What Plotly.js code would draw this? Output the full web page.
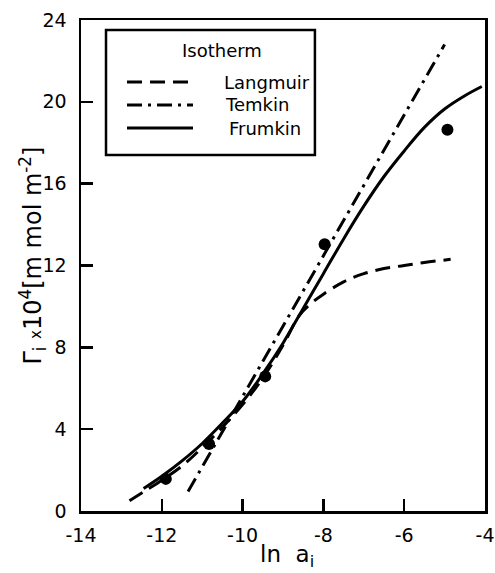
<!DOCTYPE html>
<html>
<head>
<meta charset="utf-8">
<script src="https://cdn.plot.ly/plotly-3.0.1.min.js"></script>
<style>
  html, body { margin: 0; padding: 0; background: #fff; }
  #chart { width: 495px; height: 573px; }
</style>
</head>
<body>
<div id="chart"></div>
<script>
// Experimental points
const expX = [-11.90, -10.83, -9.44, -7.97, -4.93];
const expY = [1.57, 3.28, 6.58, 13.04, 18.64];

// Langmuir isotherm (dashed)
const langmuirX = [-12.8, -12.4, -12.0, -11.5, -11.0, -10.5, -10.0, -9.5, -9.0, -8.6, -8.3, -8.0, -7.5, -7.0, -6.5, -6.0, -5.5, -4.85];
const langmuirY = [0.5, 1.0, 1.5, 2.2, 3.1, 4.1, 5.2, 6.5, 8.1, 9.55, 10.15, 10.6, 11.2, 11.6, 11.85, 12.0, 12.15, 12.3];

// Temkin isotherm (dash-dot straight line)
const temkinX = [-11.35, -5.0];
const temkinY = [0.95, 22.8];

// Frumkin isotherm (solid)
const frumkinX = [-12.45, -12.0, -11.5, -11.0, -10.5, -10.0, -9.5, -9.0, -8.5, -8.0, -7.5, -7.0, -6.5, -6.0, -5.5, -5.0, -4.5, -4.08];
const frumkinY = [1.1, 1.7, 2.45, 3.3, 4.3, 5.35, 6.7, 8.2, 9.9, 11.6, 13.3, 14.9, 16.35, 17.6, 18.75, 19.65, 20.3, 20.75];

// Axis ticks
const xTickVals = [-14, -12, -10, -8, -6, -4];
const xTickText = ['-14', '-12', '-10', '-8', '-6', '-4'];
const yTickVals = [0, 4, 8, 12, 16, 20, 24];
const yTickText = ['0', '4', '8', '12', '16', '20', '24'];

// Legend entries
const legendNames = ['Langmuir', 'Temkin', 'Frumkin'];
const legendDash = ['15px,8px', '15px,6px,3px,6px', 'solid'];

const FONT = 'DejaVu Sans, sans-serif';

const traces = [
  { x: langmuirX, y: langmuirY, mode: 'lines', line: { color: '#000', width: 3, dash: legendDash[0], shape: 'spline' }, name: legendNames[0], hoverinfo: 'skip' },
  { x: temkinX, y: temkinY, mode: 'lines', line: { color: '#000', width: 3, dash: legendDash[1] }, name: legendNames[1], hoverinfo: 'skip' },
  { x: frumkinX, y: frumkinY, mode: 'lines', line: { color: '#000', width: 3, dash: legendDash[2], shape: 'spline' }, name: legendNames[2], hoverinfo: 'skip' },
  { x: expX, y: expY, mode: 'markers', marker: { color: '#000', size: 12 }, name: 'exp', hoverinfo: 'skip' }
];

// legend drawn in paper coordinates
const lgLineY = [0.8737, 0.8269, 0.7800];
const lgTextX = [0.349, 0.3515, 0.3614];
const shapes = [
  { type: 'rect', xref: 'paper', yref: 'paper', x0: 0.0619, x1: 0.579, y0: 0.725, y1: 0.9796, line: { color: '#000', width: 2.5 } }
];
const annotations = [
  { xref: 'paper', yref: 'paper', x: 0.349, y: 0.9369, text: 'Isotherm', showarrow: false, xanchor: 'center', yanchor: 'middle', font: { family: FONT, size: 18, color: '#000' } },
  { xref: 'paper', yref: 'paper', x: -0.119, y: 0.52, textangle: -90, text: 'Γ<sub>i</sub> <span style="font-size:15px">x</span>10<sup>4</sup>[m mol m<sup>-2</sup>]', showarrow: false, xanchor: 'center', yanchor: 'middle', font: { family: FONT, size: 24, color: '#000' } },
  { xref: 'paper', yref: 'paper', x: 0.51, y: -0.092, text: 'ln  a<sub>i</sub>', showarrow: false, xanchor: 'center', yanchor: 'middle', font: { family: FONT, size: 23, color: '#000' } }
];
for (let i = 0; i < legendNames.length; i++) {
  shapes.push({ type: 'line', xref: 'paper', yref: 'paper', x0: 0.1139, x1: 0.2772, y0: lgLineY[i], y1: lgLineY[i], line: { color: '#000', width: 3, dash: legendDash[i] } });
  annotations.push({ xref: 'paper', yref: 'paper', x: lgTextX[i], y: lgLineY[i], text: legendNames[i], showarrow: false, xanchor: 'left', yanchor: 'middle', font: { family: FONT, size: 18, color: '#000' } });
}

const layout = {
  width: 495, height: 573,
  margin: { l: 81, r: 10, t: 20, b: 62 },
  paper_bgcolor: '#fff', plot_bgcolor: '#fff',
  showlegend: false,
  font: { family: FONT, size: 19, color: '#000' },
  xaxis: {
    range: [-14, -4], tickmode: 'array', tickvals: xTickVals, ticktext: xTickText,
    ticks: 'inside', ticklen: 12, tickwidth: 2.5, tickcolor: '#000',
    showline: true, linewidth: 2.5, linecolor: '#000', mirror: true,
    showgrid: false, zeroline: false, ticklabelstandoff: 6,
    tickfont: { family: FONT, size: 19, color: '#000' }
  },
  yaxis: {
    range: [0, 24], tickmode: 'array', tickvals: yTickVals, ticktext: yTickText,
    ticks: 'inside', ticklen: 12, tickwidth: 2.5, tickcolor: '#000',
    showline: true, linewidth: 2.5, linecolor: '#000', mirror: true,
    showgrid: false, zeroline: false, ticklabelstandoff: 8,
    tickfont: { family: FONT, size: 19, color: '#000' }
  },
  shapes: shapes,
  annotations: annotations
};

Plotly.newPlot('chart', traces, layout, { staticPlot: true, displayModeBar: false });
</script>
</body>
</html>
